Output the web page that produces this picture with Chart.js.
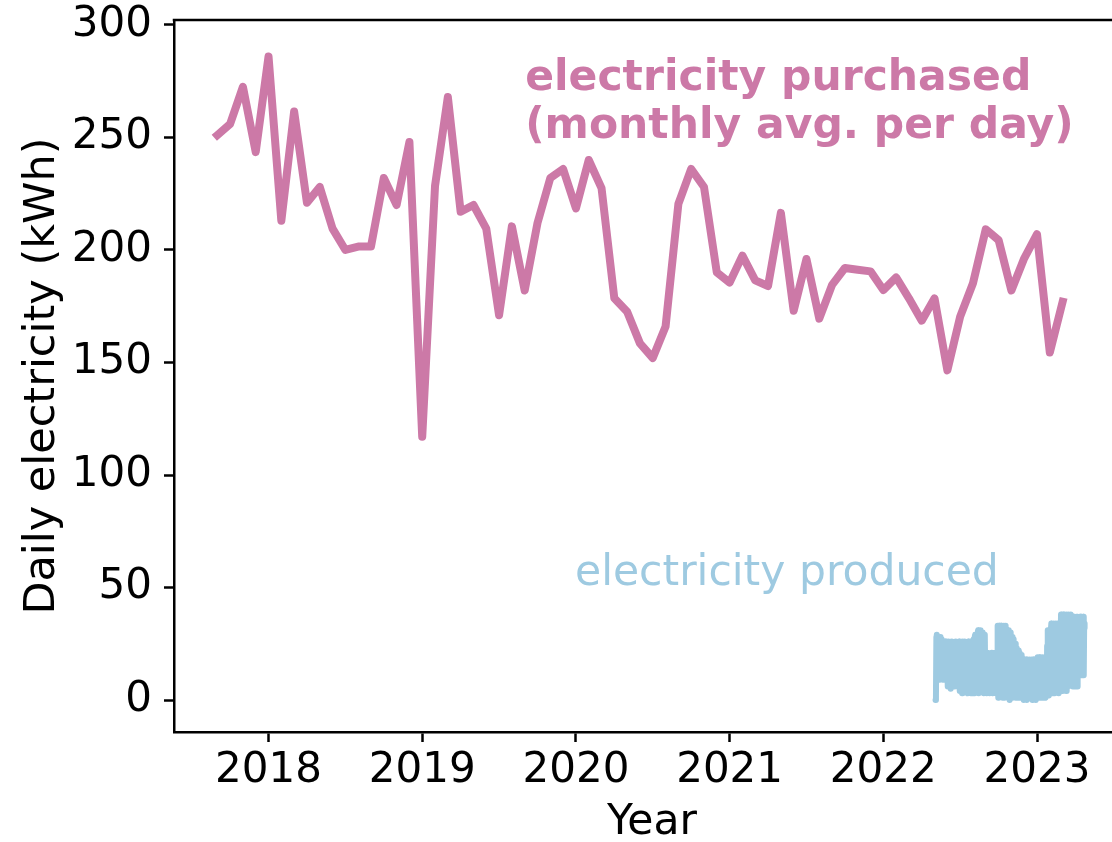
<!DOCTYPE html>
<html>
<head>
<meta charset="utf-8">
<script src="https://cdn.jsdelivr.net/npm/chart.js@4.4.0/dist/chart.umd.min.js"></script>
<style>
  html, body { margin: 0; padding: 0; background: #fff; overflow: hidden; }
  #wrap { position: relative; width: 1140px; height: 842px; }
</style>
</head>
<body>
<div id="wrap"><canvas id="chart"></canvas></div>
<script>
// Axis ticks
const yearTicks = [2018, 2019, 2020, 2021, 2022, 2023];
const valueTicks = [0, 50, 100, 150, 200, 250, 300];

// Electricity purchased: monthly average per day (kWh), one value per month from Sep 2017
const purchasedStartYear = 2017 + 8 / 12;
const purchasedMonthly = [
  251, 256, 272.5, 243.5,
  286, 213, 261.5, 221, 228, 209.5, 200, 201.5, 201.5, 232, 220, 248,
  117, 228.5, 268, 217, 220, 209.5, 171, 210.5, 182, 212, 232, 236,
  218.5, 240, 227.5, 178.5, 172.5, 158.5, 152, 166, 220.5, 236, 228, 190,
  185.5, 197.5, 186.5, 184, 216.5, 173, 196, 169.5, 184.5, 192, 191.2, 190.5,
  182.2, 187.8, 178.5, 168.6, 178.5, 146.5, 170.4, 185.2, 209.2, 204.4, 182, 196.3,
  207, 154.4, 177
];

// Electricity produced: daily totals (kWh), one value per day from 5 May 2022
const producedStartYear = 2022 + 124 / 365;
const producedDaily = [
  0, 2, 28, 29, 21, 12, 27, 28, 26, 15, 9, 24, 28, 19, 27, 10,
  26, 25, 14, 9, 23, 25, 18, 26, 12, 9, 24, 26,
  21, 6, 24, 26, 25, 11, 18, 25, 5, 22, 24, 26, 16, 8, 25, 24, 13, 25, 6, 20, 26, 24, 9, 23, 25, 14, 6,
  24, 26, 19, 4, 22, 25, 24, 12, 3, 24, 26, 17, 25, 8, 26, 21, 4, 18, 25, 24, 10, 3, 23, 26, 14, 25, 5, 20, 26, 24, 9, 3, 25, 26, 16,
  27, 12, 3, 28, 29, 20, 6, 27, 29, 15,
  30, 31, 8, 3, 25, 30, 31, 14, 29, 4, 22, 30, 18,
  28, 6, 3, 24, 29, 12,
  20, 21, 5, 3, 17, 21, 9, 20, 14, 3, 19, 20, 7, 16, 21, 4, 3, 18, 20, 12, 20, 6, 21, 15, 3, 19, 21,
  8, 30, 33, 1, 24, 33, 32, 12, 2, 31, 33, 18, 29, 1, 6, 32, 33, 20, 1, 27, 33, 14, 2, 30,
  31, 9, 1, 28, 31, 22, 0, 15, 30, 29, 5, 24, 28, 1, 18,
  27, 26, 3, 12, 25, 24, 1, 20, 23, 8, 1, 22, 22, 14, 1, 21, 20, 4, 19, 20,
  1, 10, 18, 17, 0, 6, 18, 14, 1, 16, 18, 3, 0, 12, 18, 17, 8, 1, 18, 15, 2, 1, 17, 18, 11, 0, 14, 18, 5, 1, 16, 18, 9, 0, 18, 13, 2, 17,
  19, 6, 1, 19, 18, 1, 12, 19, 4, 1, 17, 19,
  2, 14, 1, 9, 13, 2, 1, 14, 11, 2,
  24, 31, 30, 4, 2, 28, 31, 17, 3, 30,
  34, 33, 8, 3, 26, 34, 33, 15, 3, 32, 34, 22, 4, 10, 33, 34, 29, 3, 18, 34, 33, 6, 25,
  38, 37, 9, 4, 30, 38, 36, 14, 5, 38, 37, 25, 4, 33, 38, 12, 6,
  35, 38, 37, 8, 7, 30, 38, 21, 7, 36,
  35, 6, 34, 37, 15, 6, 37, 36, 9, 28, 37, 6, 30,
  37, 36, 12, 11, 33, 37, 37, 18, 11, 37, 36, 13, 30, 37, 11, 34, 32
];

const FONT = "'DejaVu Sans', 'Liberation Sans', sans-serif";
const PINK = '#CC79A7';
const BLUE = '#9ECAE1';

const purchasedPoints = purchasedMonthly.map((v, i) => ({ x: purchasedStartYear + i / 12, y: v }));
const producedPoints = producedDaily.map((v, i) => ({ x: producedStartYear + i / 365, y: v }));

// In-plot text labels, anchored in data coordinates (left edge, first baseline)
const seriesLabels = [
  { lines: ['electricity purchased', '(monthly avg. per day)'], x: 2019.67, y: 271.1, color: PINK, weight: 'bold' },
  { lines: ['electricity produced'], x: 2019.994, y: 51.1, color: BLUE, weight: 'normal' }
];

// Closes the axes box along the top and right sides
const framePlugin = {
  id: 'frame',
  afterDraw(chart) {
    const { ctx, chartArea: a } = chart;
    ctx.save();
    ctx.strokeStyle = '#000';
    ctx.lineWidth = 2.5;
    ctx.beginPath();
    ctx.moveTo(a.left - 1.25, a.top);
    ctx.lineTo(a.right, a.top);
    ctx.lineTo(a.right, a.bottom);
    ctx.stroke();
    ctx.restore();
  }
};

const labelPlugin = {
  id: 'seriesLabels',
  afterDatasetsDraw(chart) {
    const { ctx, scales } = chart;
    ctx.save();
    ctx.textAlign = 'left';
    ctx.textBaseline = 'alphabetic';
    for (const lab of seriesLabels) {
      ctx.fillStyle = lab.color;
      ctx.font = `${lab.weight} 42.5px ${FONT}`;
      const px = scales.x.getPixelForValue(lab.x);
      const py = scales.y.getPixelForValue(lab.y);
      lab.lines.forEach((t, k) => ctx.fillText(t, px, py + k * 48));
    }
    ctx.restore();
  }
};

const tickFont = { family: FONT, size: 42, lineHeight: 1.2 };

new Chart(document.getElementById('chart'), {
  type: 'line',
  data: {
    datasets: [
      {
        label: 'electricity produced',
        data: producedPoints,
        borderColor: BLUE,
        borderWidth: 6,
        pointRadius: 0,
        tension: 0,
        borderJoinStyle: 'round',
        borderCapStyle: 'round',
        fill: false
      },
      {
        label: 'electricity purchased',
        data: purchasedPoints,
        borderColor: PINK,
        borderWidth: 8,
        pointRadius: 0,
        tension: 0,
        borderJoinStyle: 'round',
        borderCapStyle: 'square',
        fill: false
      }
    ]
  },
  options: {
    responsive: true,
    maintainAspectRatio: false,
    animation: false,
    layout: { padding: { top: 20, right: 10, left: 0, bottom: 0 } },
    plugins: { legend: { display: false }, tooltip: { enabled: false } },
    scales: {
      x: {
        type: 'linear',
        min: 2017.385,
        max: 2023.605,
        afterBuildTicks: s => { s.ticks = yearTicks.map(v => ({ value: v })); },
        afterFit: s => { s.height = 110; s.paddingLeft = 0; s.paddingRight = 0; },
        ticks: { callback: v => String(v), font: tickFont, color: '#000', padding: 4, maxRotation: 0, autoSkip: false },
        grid: { drawOnChartArea: false, drawTicks: true, tickLength: 10, tickWidth: 2.5, tickColor: '#000' },
        border: { display: true, color: '#000', width: 2.5 },
        title: { display: true, text: 'Year', color: '#000', font: { family: FONT, size: 42.5, lineHeight: 0.9 }, padding: { top: 0, bottom: 0 } }
      },
      y: {
        type: 'linear',
        min: -14.2,
        max: 302.2,
        afterBuildTicks: s => { s.ticks = valueTicks.map(v => ({ value: v })); },
        afterFit: s => { s.width = 174; s.paddingTop = 0; s.paddingBottom = 0; },
        ticks: { callback: v => String(v), font: tickFont, color: '#000', padding: 12, autoSkip: false },
        grid: { drawOnChartArea: false, drawTicks: true, tickLength: 10, tickWidth: 2.5, tickColor: '#000' },
        border: { display: true, color: '#000', width: 2.5 },
        title: { display: true, text: 'Daily electricity (kWh)', color: '#000', font: { family: FONT, size: 43, lineHeight: 1.2 }, padding: { top: 17, bottom: 0 } }
      }
    }
  },
  plugins: [framePlugin, labelPlugin]
});
</script>
</body>
</html>
